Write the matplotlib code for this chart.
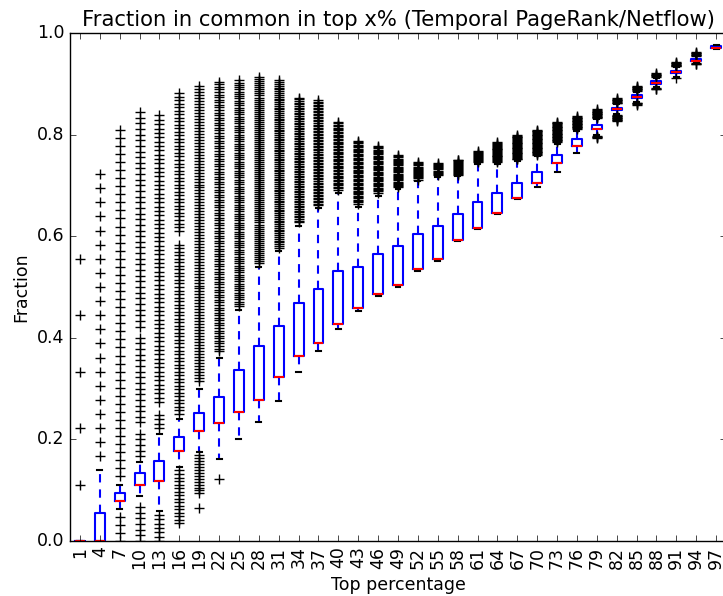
import numpy as np
import matplotlib
matplotlib.use("Agg")
import matplotlib.pyplot as plt

# top x% bins
percentages = [1, 4, 7, 10, 13, 16, 19, 22, 25, 28, 31, 34, 37, 40, 43, 46, 49,
               52, 55, 58, 61, 64, 67, 70, 73, 76, 79, 82, 85, 88, 91, 94, 97]

# box statistics
q1 = [0.0, 0.0, 0.079, 0.111, 0.118, 0.177, 0.216, 0.232, 0.253, 0.277, 0.323,
      0.365, 0.390, 0.428, 0.459, 0.487, 0.504, 0.535, 0.556, 0.592, 0.616,
      0.645, 0.675, 0.705, 0.745, 0.778, 0.811, 0.848, 0.872, 0.900, 0.921,
      0.944, 0.970]
medians = [0.0, 0.0, 0.079, 0.111, 0.118, 0.177, 0.216, 0.232, 0.253, 0.277, 0.323,
           0.365, 0.390, 0.428, 0.459, 0.487, 0.504, 0.535, 0.556, 0.592, 0.616,
           0.645, 0.675, 0.705, 0.745, 0.778, 0.811, 0.850, 0.874, 0.902, 0.923,
           0.945, 0.971]
q3 = [0.0, 0.056, 0.095, 0.133, 0.158, 0.205, 0.251, 0.283, 0.336, 0.383, 0.423,
      0.468, 0.497, 0.532, 0.540, 0.565, 0.580, 0.605, 0.621, 0.643, 0.667,
      0.685, 0.705, 0.727, 0.760, 0.791, 0.819, 0.853, 0.877, 0.905, 0.926,
      0.948, 0.975]
whisker_low = [0.0, 0.0, 0.063, 0.089, 0.060, 0.146, 0.175, 0.162, 0.200, 0.235,
               0.275, 0.333, 0.375, 0.418, 0.452, 0.482, 0.500, 0.532, 0.552,
               0.590, 0.614, 0.643, 0.673, 0.697, 0.727, 0.764, 0.800, 0.841,
               0.865, 0.893, 0.914, 0.942, 0.968]
whisker_high = [0.0, 0.139, 0.111, 0.156, 0.210, 0.240, 0.300, 0.360, 0.455, 0.540,
                0.570, 0.620, 0.655, 0.686, 0.658, 0.680, 0.692, 0.708, 0.716,
                0.718, 0.742, 0.743, 0.748, 0.758, 0.782, 0.808, 0.830, 0.860,
                0.884, 0.912, 0.933, 0.954, 0.977]

# outlier ranges (low, high) for each bin; values sit on the k/n grid of the bin
flier_bands = [
    [(0.11, 0.56)],
    [(0.16, 0.73)],
    [(0.0, 0.05), (0.12, 0.815)],
    [(0.0, 0.07), (0.165, 0.215), (0.23, 0.41), (0.42, 0.85)],
    [(0.0, 0.052), (0.215, 0.255), (0.27, 0.84)],
    [(0.03, 0.14), (0.25, 0.585), (0.605, 0.882)],
    [(0.062, 0.066), (0.09, 0.17), (0.31, 0.90)],
    [(0.118, 0.123), (0.37, 0.908)],
    [(0.462, 0.91)],
    [(0.545, 0.915)],
    [(0.575, 0.908)],
    [(0.625, 0.875)],
    [(0.66, 0.868)],
    [(0.69, 0.827)],
    [(0.662, 0.79)],
    [(0.685, 0.78)],
    [(0.695, 0.76)],
    [(0.71, 0.746)],
    [(0.72, 0.745)],
    [(0.72, 0.752)],
    [(0.745, 0.767)],
    [(0.745, 0.785)],
    [(0.75, 0.80)],
    [(0.76, 0.81)],
    [(0.785, 0.825)],
    [(0.81, 0.837)],
    [(0.793, 0.798), (0.832, 0.85)],
    [(0.826, 0.84), (0.861, 0.872)],
    [(0.858, 0.864), (0.885, 0.896)],
    [(0.888, 0.892), (0.913, 0.921)],
    [(0.911, 0.913), (0.934, 0.943)],
    [(0.938, 0.941), (0.955, 0.963)],
    [],
]


def grid_fliers(pct, bands):
    n = 9 * pct
    vals = []
    for lo, hi in bands:
        k = np.arange(np.ceil(lo * n), np.floor(hi * n) + 1)
        vals.extend(k / n)
    return np.array(vals)


stats = []
for i, p in enumerate(percentages):
    stats.append(dict(med=medians[i], q1=q1[i], q3=q3[i],
                      whislo=whisker_low[i], whishi=whisker_high[i],
                      fliers=grid_fliers(p, flier_bands[i]), label=str(p)))

plt.style.use("classic")
fig = plt.figure(figsize=(7.23, 5.96), dpi=100, facecolor="white")
ax = fig.add_axes([70 / 723, 55 / 596, 656 / 723, 508 / 596])

ax.bxp(stats, positions=range(1, len(percentages) + 1), widths=0.5,
       boxprops=dict(color="blue", linewidth=1.5),
       whiskerprops=dict(color="blue", linestyle=(0, (6, 5)), linewidth=1.5),
       capprops=dict(color="black", linewidth=1.5),
       medianprops=dict(color="red", linewidth=1.5),
       flierprops=dict(marker="+", markeredgecolor="black", markersize=7,
                       markeredgewidth=1.0, linestyle="none"))

ax.set_xlim(0.5, len(percentages) + 0.5)
ax.set_ylim(0, 1)
ax.set_yticks([0.0, 0.2, 0.4, 0.6, 0.8, 1.0])
ax.set_xticklabels([str(p) for p in percentages], rotation=90)
ax.tick_params(labelsize=12.5)
ax.set_title("Fraction in common in top x% (Temporal PageRank/Netflow)",
             fontsize=15.2)
ax.set_xlabel("Top percentage", fontsize=12.5)
ax.set_ylabel("Fraction", fontsize=12.5)

fig.savefig("out.png", dpi=100, facecolor="white")
